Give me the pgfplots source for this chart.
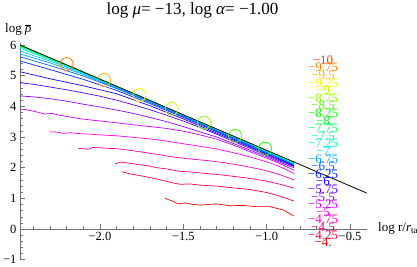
\documentclass[border=0pt]{standalone}
\usepackage{fontspec}
\setmainfont{Liberation Serif}
\usepackage{pgfplots}
\pgfplotsset{compat=1.18}
\usepackage{pgfplotstable}

\definecolor{c0}{rgb}{1,0.24,0}
\definecolor{c1}{rgb}{1,0.48,0}
\definecolor{c2}{rgb}{1,0.72,0}
\definecolor{c3}{rgb}{1,0.96,0}
\definecolor{c4}{rgb}{0.8,1,0}
\definecolor{c5}{rgb}{0.56,1,0}
\definecolor{c6}{rgb}{0.32,1,0}
\definecolor{c7}{rgb}{0.08,1,0}
\definecolor{c8}{rgb}{0,1,0.16}
\definecolor{c9}{rgb}{0,1,0.4}
\definecolor{c10}{rgb}{0,1,0.64}
\definecolor{c11}{rgb}{0,1,0.88}
\definecolor{c12}{rgb}{0,0.88,1}
\definecolor{c13}{rgb}{0,0.64,1}
\definecolor{c14}{rgb}{0,0.4,1}
\definecolor{c15}{rgb}{0,0.16,1}
\definecolor{c16}{rgb}{0.08,0,1}
\definecolor{c17}{rgb}{0.32,0,1}
\definecolor{c18}{rgb}{0.56,0,1}
\definecolor{c19}{rgb}{0.8,0,1}
\definecolor{c20}{rgb}{1,0,0.96}
\definecolor{c21}{rgb}{1,0,0.72}
\definecolor{c22}{rgb}{1,0,0.48}
\definecolor{c23}{rgb}{1,0,0.24}
\definecolor{c24}{rgb}{1,0,0}
\definecolor{axgray}{gray}{0.45}

\pgfplotstableread{
x      c16   c15   c14   c13    c12    c11    c10    c9     c8     top
-2.48  5.13  5.48  5.62  5.71   5.80   5.89   5.94   5.96   5.97   5.99
-2.30  4.90  5.20  5.33  5.42   5.48   5.52   5.54   5.55   5.56   5.57
-2.10  4.67  4.88  4.99  5.04   5.07   5.08   5.09   5.10   5.10   5.11
-1.90  4.41  4.52  4.58  4.60   4.62   4.63   4.635  4.64   4.64   4.645
-1.70  4.02  4.09  4.13  4.145  4.155  4.165  4.17   4.175  4.178  4.18
-1.50  3.59  3.64  3.67  3.68   3.69   3.70   3.706  3.71   3.712  3.716
-1.30  3.13  3.17  3.20  3.21   3.22   3.23   3.237  3.242  3.245  3.25
-1.10  2.67  2.70  2.73  2.74   2.75   2.76   2.768  2.775  2.778  2.786
-0.95  2.32  2.34  2.37  2.385  2.395  2.405  2.415  2.42   2.425  2.435
-0.836 2.05  2.07  2.09  2.105  2.12   2.13   2.14   2.15   2.155  2.17
}\upper

\begin{document}
\begin{tikzpicture}
\path[use as bounding box] (-20pt,-7.3pt) rectangle (397pt,259.7pt);
\begin{axis}[
  at={(0,0)}, anchor=south west,
  scale only axis, width=346.7pt, height=216.2pt,
  xmin=-2.48, xmax=-0.4, ymin=-1, ymax=6.05,
  axis x line=middle, axis y line=left,
  axis line style={-, draw=axgray, line width=0.5pt},
  hide obscured x ticks=false, hide obscured y ticks=false,
  xtick={-2,-1.5,-1,-0.5}, xticklabels={−2.0,−1.5,−1.0,−0.5},
  minor xtick={-2.4,-2.3,-2.2,-2.1,-1.9,-1.8,-1.7,-1.6,-1.4,-1.3,-1.2,-1.1,-0.9,-0.8,-0.7,-0.6},
  ytick={-1,0,1,2,3,4,5,6}, yticklabels={−1,0,1,2,3,4,5,6},
  minor ytick={-0.8,-0.6,-0.4,-0.2,0.2,0.4,0.6,0.8,1.2,1.4,1.6,1.8,2.2,2.4,2.6,2.8,3.2,3.4,3.6,3.8,4.2,4.4,4.6,4.8,5.2,5.4,5.6,5.8},
  tick align=inside,
  major tick length=5pt, minor tick length=3pt,
  every tick/.style={axgray, line width=0.5pt},
  ticklabel style={font=\fontsize{12.5}{12.5}\selectfont, text=black},
  clip marker paths=true,
  every axis plot/.append style={line width=0.7pt},
]
% upper curves (hidden under the black line)
\addplot[c0, no marks] table[x=x,y=top] {\upper};
\addplot[c1, no marks] table[x=x,y=top] {\upper};
\addplot[c2, no marks] table[x=x,y=top] {\upper};
\addplot[c3, no marks] table[x=x,y=top] {\upper};
\addplot[c4, no marks] table[x=x,y=top] {\upper};
\addplot[c5, no marks] table[x=x,y=top] {\upper};
\addplot[c6, no marks] table[x=x,y=top] {\upper};
\addplot[c7, no marks] table[x=x,y=top] {\upper};
\addplot[c8, no marks] table[x=x,y=c8] {\upper};
\addplot[c9, no marks] table[x=x,y=c9] {\upper};
\addplot[c10, no marks] table[x=x,y=c10] {\upper};
\addplot[c11, no marks] table[x=x,y=c11] {\upper};
\addplot[c12, no marks] table[x=x,y=c12] {\upper};
\addplot[c13, no marks] table[x=x,y=c13] {\upper};
\addplot[c14, no marks] table[x=x,y=c14] {\upper};
\addplot[c15, no marks] table[x=x,y=c15] {\upper};
\addplot[c16, no marks] table[x=x,y=c16] {\upper};
% -5.75
\addplot[c17, no marks] coordinates {(-2.48,4.77) (-2.4,4.72) (-2.3,4.63) (-2.2,4.54) (-2.1,4.44) (-2.0,4.33) (-1.9,4.20) (-1.8,4.05) (-1.7,3.89) (-1.6,3.71) (-1.5,3.52) (-1.4,3.31) (-1.3,3.09) (-1.2,2.86) (-1.1,2.63) (-1.0,2.40) (-0.95,2.28) (-0.9,2.17) (-0.836,2.04)};
% -5.5
\addplot[c18, no marks] coordinates {(-2.48,4.34) (-2.4,4.31) (-2.3,4.25) (-2.2,4.17) (-2.1,4.07) (-2.0,3.98) (-1.9,3.88) (-1.8,3.77) (-1.7,3.64) (-1.6,3.50) (-1.5,3.34) (-1.4,3.17) (-1.3,3.00) (-1.2,2.79) (-1.1,2.57) (-1.0,2.36) (-0.95,2.24) (-0.9,2.13) (-0.836,2.00)};
% -5.25
\addplot[c19, no marks] coordinates {(-2.48,3.91) (-2.45,3.90) (-2.39,3.83) (-2.33,3.75) (-2.29,3.77) (-2.25,3.72) (-2.19,3.66) (-2.11,3.59) (-2.01,3.53) (-1.91,3.47) (-1.8,3.40) (-1.7,3.34) (-1.6,3.28) (-1.5,3.19) (-1.4,3.07) (-1.3,2.93) (-1.2,2.74) (-1.1,2.52) (-1.0,2.31) (-0.95,2.20) (-0.9,2.08) (-0.836,1.92)};
% -5
\addplot[c20, no marks] coordinates {(-2.30,3.17) (-2.26,3.16) (-2.22,3.12) (-2.18,3.14) (-2.12,3.11) (-2.05,3.09) (-2.0,3.07) (-1.9,3.04) (-1.8,2.99) (-1.7,2.94) (-1.6,2.87) (-1.5,2.78) (-1.4,2.70) (-1.3,2.61) (-1.2,2.49) (-1.1,2.35) (-1.0,2.19) (-0.95,2.10) (-0.9,1.98) (-0.836,1.81)};
% -4.75
\addplot[c21, no marks] coordinates {(-2.13,2.63) (-2.10,2.62) (-2.07,2.60) (-2.04,2.66) (-2.0,2.65) (-1.95,2.63) (-1.9,2.62) (-1.84,2.58) (-1.75,2.51) (-1.65,2.43) (-1.55,2.34) (-1.45,2.28) (-1.35,2.23) (-1.25,2.16) (-1.15,2.07) (-1.05,1.96) (-0.98,1.87) (-0.92,1.77) (-0.836,1.60)};
% -4.5
\addplot[c22, no marks] coordinates {(-1.91,2.12) (-1.88,2.18) (-1.84,2.16) (-1.78,2.11) (-1.72,2.07) (-1.66,2.00) (-1.60,1.96) (-1.52,1.88) (-1.45,1.86) (-1.38,1.82) (-1.30,1.78) (-1.2,1.72) (-1.1,1.65) (-1.0,1.56) (-0.92,1.46) (-0.836,1.33)};
% -4.25
\addplot[c23, no marks] coordinates {(-1.87,1.87) (-1.82,1.80) (-1.76,1.74) (-1.70,1.68) (-1.62,1.58) (-1.56,1.50) (-1.52,1.46) (-1.46,1.47) (-1.40,1.43) (-1.30,1.40) (-1.2,1.34) (-1.1,1.29) (-1.0,1.19) (-0.92,1.07) (-0.836,0.91)};
% -4
\addplot[c24, no marks] coordinates {(-1.61,1.00) (-1.57,0.92) (-1.53,0.82) (-1.49,0.85) (-1.45,0.81) (-1.40,0.78) (-1.35,0.80) (-1.30,0.82) (-1.22,0.76) (-1.14,0.77) (-1.06,0.73) (-0.98,0.73) (-0.90,0.62) (-0.836,0.42)};
% black reference line
\addplot[black, no marks, line width=0.8pt] coordinates {(-2.48,6.0) (-0.4,1.174)};
% circles
\addplot[c0, only marks, mark=o, mark size=6.5pt, mark options={line width=0.8pt}] coordinates {(-2.49,6.02)};
\addplot[c1, only marks, mark=o, mark size=6.5pt, mark options={line width=0.8pt}] coordinates {(-2.20,5.38)};
\addplot[c2, only marks, mark=o, mark size=6.5pt, mark options={line width=0.8pt}] coordinates {(-1.976,4.86)};
\addplot[c3, only marks, mark=o, mark size=6.5pt, mark options={line width=0.8pt}] coordinates {(-1.764,4.37)};
\addplot[c4, only marks, mark=o, mark size=6.5pt, mark options={line width=0.8pt}] coordinates {(-1.57,3.92)};
\addplot[c5, only marks, mark=o, mark size=6.5pt, mark options={line width=0.8pt}] coordinates {(-1.376,3.47)};
\addplot[c6, only marks, mark=o, mark size=6.5pt, mark options={line width=0.8pt}] coordinates {(-1.19,3.04)};
\addplot[c7, only marks, mark=o, mark size=6.5pt, mark options={line width=0.8pt}] coordinates {(-1.01,2.62)};
\end{axis}
\node[anchor=base, inner sep=0pt, font=\fontsize{17}{17}\selectfont] at (172.5pt,244.7pt) {log \textit{μ}= −13, log \textit{α}= −1.00};
\node[anchor=base west, inner sep=0pt, font=\fontsize{13}{13}\selectfont] at (-15pt,227.2pt) {log $\overline{\mbox{\textit{ρ}}}$};
\node[anchor=base west, inner sep=0pt, font=\fontsize{13}{13}\selectfont] at (358pt,27.7pt) {log r/\textit{r}\textsubscript{ta}};
\foreach \i/\t in {0/−10,1/−9.75,2/−9.5,3/−9.25,4/−9,5/−8.75,6/−8.5,7/−8.25,8/−8,9/−7.75,10/−7.5,11/−7.25,12/−7,13/−6.75,14/−6.5,15/−6.25,16/−6,17/−5.75,18/−5.5,19/−5.25,20/−5,21/−4.75,22/−4.5,23/−4.25,24/−4.}
  \node[anchor=base, inner sep=0pt, text=c\i, font=\fontsize{13}{13}\selectfont] at (303pt,{(195.3-7.6*\i)*1pt}) {\t};
\end{tikzpicture}
\end{document}
